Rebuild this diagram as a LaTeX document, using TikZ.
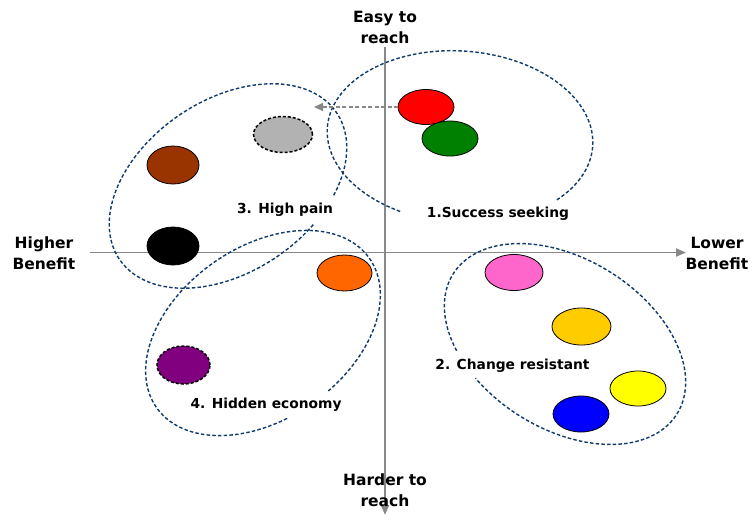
\documentclass[tikz,border=0pt]{standalone}
\usepackage{fontspec}
\setmainfont{DejaVu Sans}
\usetikzlibrary{shapes.geometric,arrows.meta}
\definecolor{axisgray}{RGB}{136,136,136}
\definecolor{grpblue}{RGB}{14,58,108}
\definecolor{cgray}{RGB}{178,178,178}
\definecolor{cbrown}{RGB}{153,51,0}
\definecolor{corange}{RGB}{255,102,0}
\definecolor{cpurple}{RGB}{128,0,128}
\definecolor{cpink}{RGB}{255,102,204}
\definecolor{cgold}{RGB}{255,204,0}
\definecolor{cyellow}{RGB}{255,255,0}
\definecolor{cblue}{RGB}{0,0,255}
\definecolor{cgreen}{RGB}{0,128,0}
\definecolor{cred}{RGB}{255,0,0}
\begin{document}
\begin{tikzpicture}[x=1pt,y=-1pt,
  blob/.style={ellipse, draw=black, line width=0.8pt, inner sep=0pt, outer sep=0pt},
  dashblob/.style={blob, line width=1.5pt, dash pattern=on 3pt off 2pt},
  grp/.style={draw=grpblue, line width=1.4pt, dash pattern=on 3.5pt off 2.2pt},
  axislbl/.style={font=\fontsize{15.5}{21}\selectfont\bfseries, align=center, text=black},
  grplbl/.style={font=\fontsize{13.8}{16}\selectfont\bfseries, text=black},
  axisline/.style={draw=axisgray, line width=1.9pt, -{Triangle[length=10pt,width=8pt]}}]
\useasboundingbox (0,0) rectangle (754,520);
\fill[white] (0,0) rectangle (754,520);

% axes
\coordinate (vtop) at (385,47);
\coordinate (vbot) at (385,515);
\coordinate (hleft) at (90,252.5);
\coordinate (hright) at (686,252.5);
\draw[axisline] (vtop) -- (vbot);
\draw[axisline] (hleft) -- (hright);

% group ellipses (dashed, with gaps at labels)
\draw[grp] plot[domain=114.2:400.6, samples=180, variable=\t]
  ({460 + 133*cos(\t)*cos(4) - 86*sin(\t)*sin(4)}, {137 + 133*cos(\t)*sin(4) + 86*sin(\t)*cos(4)});
\draw[grp] plot[domain=68:411, samples=180, variable=\t]
  ({228 + 131*cos(\t)*cos(-34) - 86*sin(\t)*sin(-34)}, {186 + 131*cos(\t)*sin(-34) + 86*sin(\t)*cos(-34)});
\draw[grp] plot[domain=103:441, samples=180, variable=\t]
  ({263 + 130*cos(\t)*cos(-35) - 86*sin(\t)*sin(-35)}, {333 + 130*cos(\t)*sin(-35) + 86*sin(\t)*cos(-35)});
\draw[grp] plot[domain=132:476, samples=180, variable=\t]
  ({565 + 132*cos(\t)*cos(32) - 85*sin(\t)*sin(32)}, {344 + 132*cos(\t)*sin(32) + 85*sin(\t)*cos(32)});

% filled ellipses
\node[blob, fill=cred, minimum width=56pt, minimum height=35pt] (red) at (426,107) {};
\node[blob, fill=cgreen, minimum width=56pt, minimum height=35pt] (green) at (450,138.5) {};
\node[dashblob, fill=cgray, minimum width=59pt, minimum height=36pt] (gray) at (283,134.5) {};
\node[blob, fill=cbrown, minimum width=52pt, minimum height=38pt] (brown) at (173,165) {};
\node[blob, fill=black, minimum width=52pt, minimum height=38pt] (black) at (173,246) {};
\node[blob, fill=corange, minimum width=55pt, minimum height=36pt] (orange) at (344.5,273) {};
\node[dashblob, fill=cpurple, minimum width=53pt, minimum height=38pt] (purple) at (183.5,365) {};
\node[blob, fill=cpink, minimum width=58pt, minimum height=36pt] (pink) at (514,272.5) {};
\node[blob, fill=cgold, minimum width=59pt, minimum height=37pt] (gold) at (581.5,326.5) {};
\node[blob, fill=cyellow, minimum width=56pt, minimum height=35pt] (yellow) at (638,388.5) {};
\node[blob, fill=cblue, minimum width=56pt, minimum height=36pt] (blue) at (581,414) {};

% dashed arrow from red towards group 3
\coordinate (dtip) at (314,107);
\draw[draw=axisgray, line width=1.7pt, dash pattern=on 4pt off 2.5pt, -{Triangle[length=9pt,width=8pt]}] (red.west) -- (dtip);

% group labels
\node[grplbl] (l1) at (498,214) {1.Success seeking};
\node[grplbl] (l3) at (285,210) {3. High pain};
\node[grplbl] (l4) at (266,405) {4. Hidden economy};
\node[grplbl] (l2) at (512.5,366) {2. Change resistant};

% axis labels
\node[axislbl] (easy) at (385,27.5) {Easy to\\reach};
\node[axislbl] (harder) at (385,490.5) {Harder to\\reach};
\node[axislbl] (higher) at (44,253.5) {Higher\\Benefit};
\node[axislbl] (lower) at (717,253) {Lower\\Benefit};
\end{tikzpicture}
\end{document}
